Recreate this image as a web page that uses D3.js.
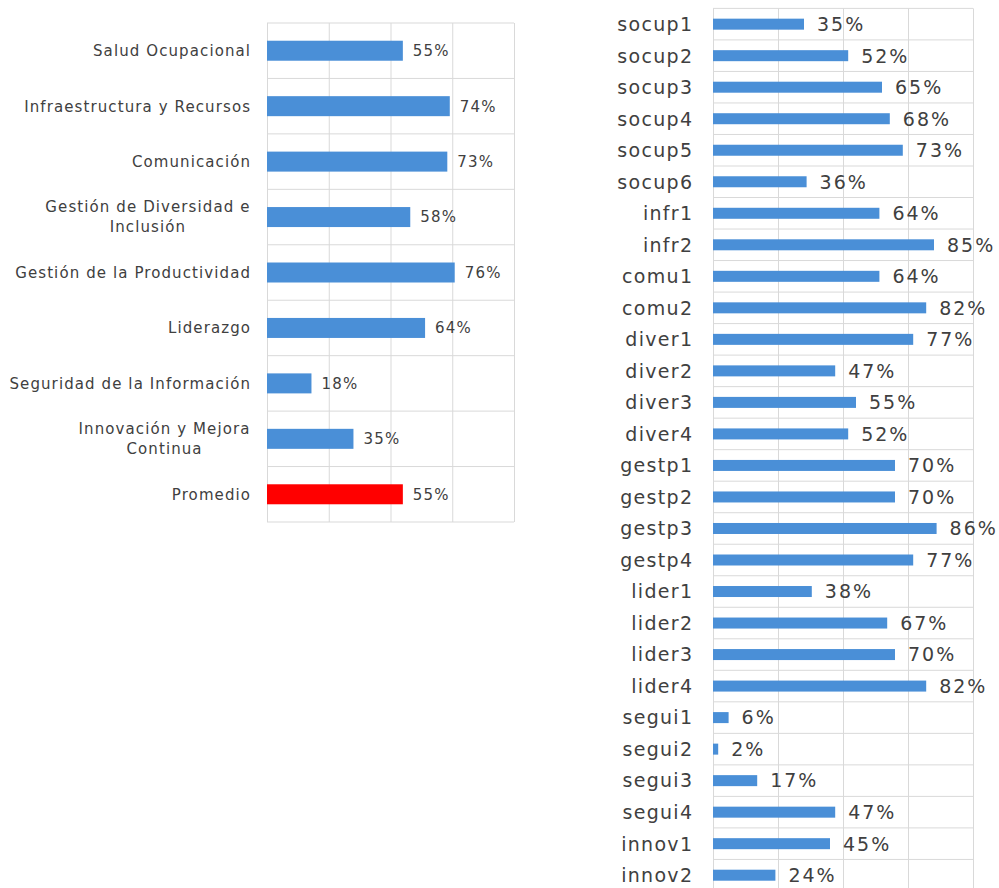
<!DOCTYPE html>
<html>
<head>
<meta charset="utf-8">
<script src="https://cdn.jsdelivr.net/npm/d3@7"></script>
<style>
  body { margin: 0; background: #fff; }
  svg text { font-family: "DejaVu Sans", "Open Sans", sans-serif; fill: #404040; }
</style>
</head>
<body>
<svg id="chart" width="999" height="888"></svg>
<script>
// Dimension averages (left panel)
const summaryLabels = [
  "Salud Ocupacional",
  "Infraestructura y Recursos",
  "Comunicación",
  "Gestión de Diversidad e\nInclusión",
  "Gestión de la Productividad",
  "Liderazgo",
  "Seguridad de la Información",
  "Innovación y Mejora\nContinua",
  "Promedio"
];
const summaryValues = [55, 74, 73, 58, 76, 64, 18, 35, 55];

// Item-level scores (right panel)
const itemLabels = [
  "socup1", "socup2", "socup3", "socup4", "socup5", "socup6",
  "infr1", "infr2", "comu1", "comu2",
  "diver1", "diver2", "diver3", "diver4",
  "gestp1", "gestp2", "gestp3", "gestp4",
  "lider1", "lider2", "lider3", "lider4",
  "segui1", "segui2", "segui3", "segui4",
  "innov1", "innov2"
];
const itemValues = [
  35, 52, 65, 68, 73, 36,
  64, 85, 64, 82,
  77, 47, 55, 52,
  70, 70, 86, 77,
  38, 67, 70, 82,
  6, 2, 17, 47,
  45, 24
];

const gridTicks = [0, 25, 50, 75, 100];

const BLUE = "#4a8fd7";
const RED = "#ff0000";
const GRID = "#d9d9d9";

const svg = d3.select("#chart");

function drawPanel(opts) {
  const { labels, values, x0, x1, y0, y1, barH, fontSize, labelGap, valueGap,
          lineH, labelSpacing, valueSpacing, colorFor } = opts;
  const g = svg.append("g");
  const x = d3.scaleLinear().domain([0, 100]).range([x0, x1]);
  const y = d3.scaleBand().domain(labels).range([y0, y1]).padding(0);

  // vertical grid lines
  g.append("g")
    .attr("transform", `translate(0,${y0})`)
    .call(d3.axisTop(x).tickValues(gridTicks).tickSize(-(y1 - y0)).tickFormat(""))
    .call(a => a.select(".domain").remove())
    .call(a => a.selectAll("line").attr("stroke", GRID).attr("stroke-width", 1));

  // horizontal row separators
  const rowEdges = labels.map(d => y(d)).concat([y1]);
  g.append("g").selectAll("line").data(rowEdges).join("line")
    .attr("x1", x0).attr("x2", x1)
    .attr("y1", d => d).attr("y2", d => d)
    .attr("stroke", GRID).attr("stroke-width", 1);

  // bars
  g.append("g").selectAll("rect").data(labels).join("rect")
    .attr("x", x(0))
    .attr("y", d => y(d) + (y.bandwidth() - barH) / 2)
    .attr("width", (d, i) => x(values[i]) - x(0))
    .attr("height", barH)
    .attr("fill", (d, i) => colorFor(d, i));

  // value labels
  g.append("g").selectAll("text").data(labels).join("text")
    .attr("x", (d, i) => x(values[i]) + valueGap)
    .attr("y", d => y(d) + y.bandwidth() / 2)
    .attr("dy", "0.36em")
    .attr("font-size", fontSize)
    .style("letter-spacing", valueSpacing + "px")
    .text((d, i) => values[i] + "%");

  // category labels (multi-line labels centred on each other, block right-aligned)
  const lab = g.append("g").selectAll("text").data(labels).join("text")
    .attr("font-size", fontSize)
    .style("letter-spacing", labelSpacing + "px")
    .attr("y", d => y(d) + y.bandwidth() / 2);
  lab.each(function (d) {
    const t = d3.select(this);
    const lines = d.split("\n");
    const n = lines.length;
    lines.forEach((ln, k) => {
      t.append("tspan")
        .attr("x", 0)
        .attr("dy", k === 0 ? ((-(n - 1) / 2) * lineH) + fontSize * 0.36 : lineH)
        .text(ln);
    });
    if (n === 1) {
      t.attr("text-anchor", "end");
      t.selectAll("tspan").attr("x", x0 - labelGap + labelSpacing);
    } else {
      let w = 0;
      t.selectAll("tspan").each(function () { w = Math.max(w, this.getComputedTextLength()); });
      t.attr("text-anchor", "middle");
      t.selectAll("tspan").attr("x", x0 - labelGap - (w - labelSpacing) / 2);
    }
  });
}

drawPanel({
  labels: summaryLabels, values: summaryValues,
  x0: 267, x1: 514, y0: 23, y1: 522,
  barH: 20, fontSize: 15, labelGap: 17, valueGap: 10, lineH: 20,
  labelSpacing: 1.1, valueSpacing: 1.2,
  colorFor: (d) => d === "Promedio" ? RED : BLUE
});

drawPanel({
  labels: itemLabels, values: itemValues,
  x0: 713, x1: 973, y0: 8.4, y1: 8.4 + 31.52 * itemLabels.length,
  barH: 11, fontSize: 19, labelGap: 21, valueGap: 13, lineH: 22,
  labelSpacing: 1.3, valueSpacing: 2,
  colorFor: () => BLUE
});
</script>
</body>
</html>
